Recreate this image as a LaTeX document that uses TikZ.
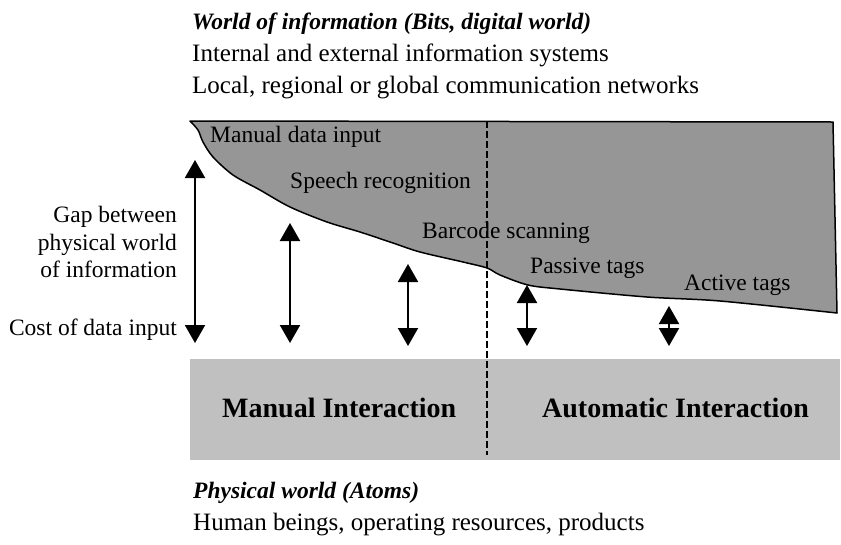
\documentclass[tikz,border=0pt]{standalone}
\usepackage{fontspec}
\setmainfont{Liberation Serif}
\usetikzlibrary{arrows.meta}

\definecolor{bitsgray}{RGB}{150,150,150}
\definecolor{atomgray}{RGB}{192,192,192}

\tikzset{
  txt/.style={inner sep=0pt, anchor=base west, font=\fontsize{25}{30}\selectfont},
  head/.style={txt, font=\fontsize{23.5}{30}\selectfont\bfseries\itshape},
  lbl/.style={inner sep=0pt, anchor=base west, font=\fontsize{23.5}{27.5}\selectfont},
  ia/.style={inner sep=0pt, anchor=base west, font=\fontsize{28}{32}\selectfont\bfseries},
  gap/.style={line width=2pt, {Triangle[width=20pt,length=18pt]}-{Triangle[width=20pt,length=18pt]}}
}

\begin{document}
\begin{tikzpicture}[x=1pt,y=-1pt]
  \useasboundingbox (0,0) rectangle (841,544);

  % physical world
  \fill[atomgray] (190,359) rectangle (840,460);

  % world of information
  \filldraw[fill=bitsgray, line width=1.5pt, line join=round]
    (190,121) -- (833,122) -- (837,313)
    -- plot[smooth] coordinates {(837,313) (720,301) (647,297) (560,289) (528,285)
      (500,275) (487,268) (463,262) (420,252) (393,243) (360,232) (327,222)
      (290,207) (260,190) (233,175) (213,157) (203,142) (198,130) (190,121)}
    -- cycle;

  \draw[line width=1.5pt, dash pattern=on 7pt off 3pt] (487,121) -- (487,455);

  \node[head] (title) at (192,29) {World of information (Bits, digital world)};
  \node[txt] (infosys)  at (192,61) {Internal and external information systems};
  \node[txt] (networks) at (192,93) {Local, regional or global communication networks};

  \node[lbl] (manual)  at (210,142) {Manual data input};
  \node[lbl] (speech)  at (290,188) {Speech recognition};
  \node[lbl] (barcode) at (422,238) {Barcode scanning};
  \node[lbl] (passive) at (530,273) {Passive tags};
  \node[lbl] (active)  at (684,290) {Active tags};

  \node[lbl, anchor=north east, align=right] (gap) at (177,206)
    {Gap between\\physical world\\of information};
  \node[lbl, anchor=base east] (cost) at (177,335) {Cost of data input};

  \node[ia] (manualia) at (222,417) {Manual Interaction};
  \node[ia] (autoia)   at (542,417) {Automatic Interaction};

  \node[head] (physical) at (193,498) {Physical world (Atoms)};
  \node[txt] (humans) at (193,530) {Human beings, operating resources, products};

  % gaps
  \coordinate (g1t) at (195,160); \coordinate (g1b) at (195,343);
  \coordinate (g2t) at (290,223); \coordinate (g2b) at (290,343);
  \coordinate (g3t) at (408,264); \coordinate (g3b) at (408,346);
  \coordinate (g4t) at (527,285); \coordinate (g4b) at (527,346);
  \coordinate (g5t) at (669,306); \coordinate (g5b) at (669,346);
  \draw[gap] (g1t) -- (g1b);
  \draw[gap] (g2t) -- (g2b);
  \draw[gap] (g3t) -- (g3b);
  \draw[gap] (g4t) -- (g4b);
  \draw[gap] (g5t) -- (g5b);
\end{tikzpicture}
\end{document}
